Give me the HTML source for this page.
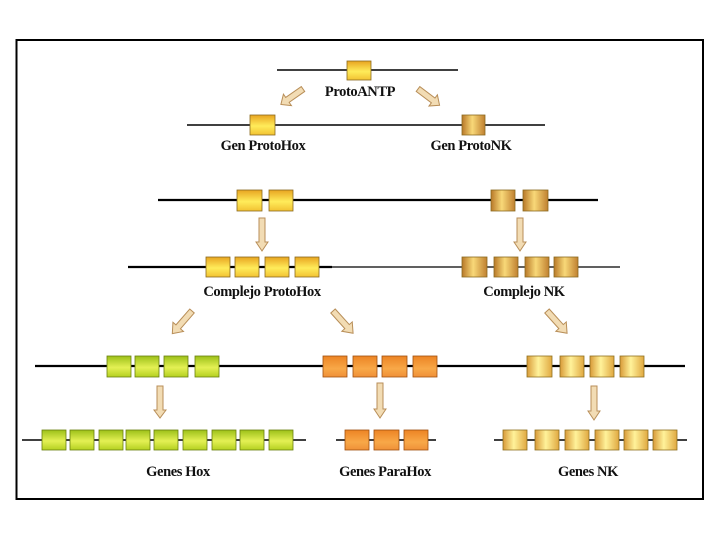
<!DOCTYPE html>
<html><head><meta charset="utf-8"><style>
html,body{margin:0;padding:0;background:#fff;}
svg{display:block;}
text{font-family:"Liberation Serif",serif;font-weight:bold;font-size:14.5px;fill:#111;text-anchor:middle;letter-spacing:-0.4px;}
</style></head><body>
<svg width="720" height="540" viewBox="0 0 720 540" xmlns="http://www.w3.org/2000/svg">
<defs>
<linearGradient id="y" x1="0" y1="0" x2="0" y2="1"><stop offset="0" stop-color="#e8a420"/><stop offset="0.55" stop-color="#ffec5a"/><stop offset="1" stop-color="#f2c232"/></linearGradient>
<linearGradient id="b" x1="0" y1="0" x2="1" y2="0"><stop offset="0" stop-color="#b87828"/><stop offset="0.45" stop-color="#f8d878"/><stop offset="1" stop-color="#c08030"/></linearGradient>
<linearGradient id="g" x1="0" y1="0" x2="0" y2="1"><stop offset="0" stop-color="#9cc018"/><stop offset="0.55" stop-color="#e4f054"/><stop offset="1" stop-color="#b4d020"/></linearGradient>
<linearGradient id="o" x1="0" y1="0" x2="0" y2="1"><stop offset="0" stop-color="#ec8424"/><stop offset="0.6" stop-color="#f8a848"/><stop offset="1" stop-color="#f09038"/></linearGradient>
<linearGradient id="l" x1="0" y1="0" x2="1" y2="0"><stop offset="0" stop-color="#d89a38"/><stop offset="0.45" stop-color="#fff29a"/><stop offset="1" stop-color="#e0a840"/></linearGradient>
</defs>
<rect x="16.5" y="40" width="686.5" height="459" fill="none" stroke="#000" stroke-width="2"/>

<g stroke="#000">
<line x1="277" y1="70" x2="458" y2="70" stroke-width="1.5"/>
<line x1="187" y1="125" x2="545" y2="125" stroke-width="1.5"/>
<line x1="158" y1="200" x2="598" y2="200" stroke-width="2.2"/>
<line x1="128" y1="267" x2="332" y2="267" stroke-width="2.2"/>
<line x1="332" y1="267" x2="620" y2="267" stroke-width="1.3"/>
<line x1="35" y1="366" x2="685" y2="366" stroke-width="2.2"/>
<line x1="22" y1="440" x2="306" y2="440" stroke-width="1.5"/>
<line x1="336" y1="440" x2="436" y2="440" stroke-width="1.5"/>
<line x1="494" y1="440" x2="687" y2="440" stroke-width="1.5"/>
</g>

<g stroke="#8a6a20" stroke-width="0.8">
<rect x="347" y="61" width="24" height="19" fill="url(#y)"/>
<rect x="250" y="115" width="25" height="20" fill="url(#y)"/>
<rect x="462" y="115" width="23" height="20" fill="url(#b)"/>
<rect x="237" y="190" width="25" height="21" fill="url(#y)"/>
<rect x="269" y="190" width="24" height="21" fill="url(#y)"/>
<rect x="491" y="190" width="24" height="21" fill="url(#b)"/>
<rect x="523" y="190" width="25" height="21" fill="url(#b)"/>
<rect x="206" y="257" width="24" height="20" fill="url(#y)"/>
<rect x="235" y="257" width="24" height="20" fill="url(#y)"/>
<rect x="265" y="257" width="24" height="20" fill="url(#y)"/>
<rect x="295" y="257" width="24" height="20" fill="url(#y)"/>
<rect x="462" y="257" width="25" height="20" fill="url(#b)"/>
<rect x="494" y="257" width="24" height="20" fill="url(#b)"/>
<rect x="525" y="257" width="24" height="20" fill="url(#b)"/>
<rect x="554" y="257" width="24" height="20" fill="url(#b)"/>
</g>
<g stroke="#6a8010" stroke-width="0.8">
<rect x="107" y="356" width="24" height="21" fill="url(#g)"/>
<rect x="135" y="356" width="24" height="21" fill="url(#g)"/>
<rect x="164" y="356" width="24" height="21" fill="url(#g)"/>
<rect x="195" y="356" width="24" height="21" fill="url(#g)"/>
<rect x="42" y="430" width="24" height="20" fill="url(#g)"/>
<rect x="70" y="430" width="24" height="20" fill="url(#g)"/>
<rect x="99" y="430" width="24" height="20" fill="url(#g)"/>
<rect x="126" y="430" width="24" height="20" fill="url(#g)"/>
<rect x="154" y="430" width="24" height="20" fill="url(#g)"/>
<rect x="183" y="430" width="24" height="20" fill="url(#g)"/>
<rect x="212" y="430" width="24" height="20" fill="url(#g)"/>
<rect x="240" y="430" width="24" height="20" fill="url(#g)"/>
<rect x="269" y="430" width="24" height="20" fill="url(#g)"/>
</g>
<g stroke="#a05010" stroke-width="0.8">
<rect x="323" y="356" width="24" height="21" fill="url(#o)"/>
<rect x="353" y="356" width="24" height="21" fill="url(#o)"/>
<rect x="382" y="356" width="25" height="21" fill="url(#o)"/>
<rect x="413" y="356" width="24" height="21" fill="url(#o)"/>
<rect x="345" y="430" width="24" height="20" fill="url(#o)"/>
<rect x="374" y="430" width="25" height="20" fill="url(#o)"/>
<rect x="404" y="430" width="24" height="20" fill="url(#o)"/>
</g>
<g stroke="#907020" stroke-width="0.8">
<rect x="527" y="356" width="25" height="21" fill="url(#l)"/>
<rect x="560" y="356" width="24" height="21" fill="url(#l)"/>
<rect x="590" y="356" width="24" height="21" fill="url(#l)"/>
<rect x="620" y="356" width="24" height="21" fill="url(#l)"/>
<rect x="503" y="430" width="24" height="20" fill="url(#l)"/>
<rect x="535" y="430" width="24" height="20" fill="url(#l)"/>
<rect x="565" y="430" width="24" height="20" fill="url(#l)"/>
<rect x="595" y="430" width="24" height="20" fill="url(#l)"/>
<rect x="624" y="430" width="24" height="20" fill="url(#l)"/>
<rect x="653" y="430" width="24" height="20" fill="url(#l)"/>
</g>

<g fill="#f2dcb4" stroke="#b88e58" stroke-width="1">
<polygon transform="translate(303,89) rotate(55)" points="-3,0 3,0 3,19 7,19 0,27 -7,19 -3,19"/>
<polygon transform="translate(418,89) rotate(-53)" points="-3,0 3,0 3,19 7,19 0,27 -7,19 -3,19"/>
<polygon transform="translate(262,218)" points="-3,0 3,0 3,24 6,24 0,33 -6,24 -3,24"/>
<polygon transform="translate(520,218)" points="-3,0 3,0 3,24 6,24 0,33 -6,24 -3,24"/>
<polygon transform="translate(192,311) rotate(41)" points="-3,0 3,0 3,21 7,21 0,30 -7,21 -3,21"/>
<polygon transform="translate(333,311) rotate(-42)" points="-3,0 3,0 3,21 7,21 0,30 -7,21 -3,21"/>
<polygon transform="translate(547,311) rotate(-42)" points="-3,0 3,0 3,21 7,21 0,30 -7,21 -3,21"/>
<polygon transform="translate(160,386)" points="-3,0 3,0 3,24 6,24 0,32 -6,24 -3,24"/>
<polygon transform="translate(380,383)" points="-3,0 3,0 3,26 6,26 0,35 -6,26 -3,26"/>
<polygon transform="translate(594,386)" points="-3,0 3,0 3,25 6,25 0,34 -6,25 -3,25"/>
</g>

<text x="360" y="96">ProtoANTP</text>
<text x="263" y="150">Gen ProtoHox</text>
<text x="471" y="150">Gen ProtoNK</text>
<text x="262" y="296">Complejo ProtoHox</text>
<text x="524" y="296">Complejo NK</text>
<text x="178" y="476">Genes Hox</text>
<text x="385" y="476">Genes ParaHox</text>
<text x="588" y="476">Genes NK</text>
</svg>
</body></html>
